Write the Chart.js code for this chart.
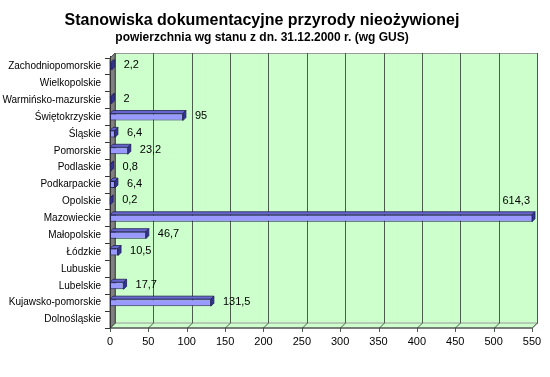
<!DOCTYPE html>
<html>
<head>
<meta charset="utf-8">
<script src="https://cdn.jsdelivr.net/npm/chart.js@4"></script>
<style>
  html, body { margin: 0; padding: 0; background: #fff; }
</style>
</head>
<body>
<canvas id="gusChart" width="550" height="377"></canvas>
<script>
// data (top to bottom)
const categories = [
  'Zachodniopomorskie', 'Wielkopolskie', 'Warmińsko-mazurskie', 'Świętokrzyskie',
  'Śląskie', 'Pomorskie', 'Podlaskie', 'Podkarpackie', 'Opolskie', 'Mazowieckie',
  'Małopolskie', 'Łódzkie', 'Lubuskie', 'Lubelskie', 'Kujawsko-pomorskie', 'Dolnośląskie'
];
const values = [2.2, null, 2, 95, 6.4, 23.2, 0.8, 6.4, 0.2, 614.3, 46.7, 10.5, null, 17.7, 131.5, null];
const xTickValues = [0, 50, 100, 150, 200, 250, 300, 350, 400, 450, 500, 550];
const titleText = 'Stanowiska dokumentacyjne przyrody nieożywionej';
const subtitleText = 'powierzchnia wg stanu z dn. 31.12.2000 r. (wg GUS)';

const DEPTH = 5;     // depth of the 3D walls
const BAR_DEPTH = 3; // depth of the 3D bars
const FONT = '"Liberation Sans", Arial, sans-serif';

function fmt(v) {
  return String(v).replace('.', ',');
}

// walls, floor and gridlines of the 3D box
const wallsPlugin = {
  id: 'walls',
  beforeDatasetsDraw(chart) {
    const { ctx, chartArea: a, scales } = chart;
    ctx.save();
    // back wall
    ctx.fillStyle = '#ccffcc';
    ctx.fillRect(a.left + DEPTH, a.top - DEPTH, a.right - a.left, a.bottom - a.top);
    ctx.strokeStyle = '#9a9a9a';
    ctx.lineWidth = 1;
    ctx.strokeRect(a.left + DEPTH + 0.5, a.top - DEPTH + 0.5, a.right - a.left, a.bottom - a.top);
    // floor
    ctx.beginPath();
    ctx.moveTo(a.left, a.bottom);
    ctx.lineTo(a.right, a.bottom);
    ctx.lineTo(a.right + DEPTH, a.bottom - DEPTH);
    ctx.lineTo(a.left + DEPTH, a.bottom - DEPTH);
    ctx.closePath();
    ctx.fillStyle = '#ccffcc';
    ctx.fill();
    ctx.strokeStyle = '#9a9a9a';
    ctx.stroke();
    // left wall
    ctx.beginPath();
    ctx.moveTo(a.left, a.top);
    ctx.lineTo(a.left + DEPTH, a.top - DEPTH);
    ctx.lineTo(a.left + DEPTH, a.bottom - DEPTH);
    ctx.lineTo(a.left, a.bottom);
    ctx.closePath();
    ctx.fillStyle = '#808080';
    ctx.fill();
    ctx.strokeStyle = '#555';
    ctx.stroke();
    // gridlines on the back wall and the floor
    ctx.strokeStyle = '#4b5e4b';
    xTickValues.forEach((v) => {
      const px = Math.round(scales.x.getPixelForValue(v)) + 0.5;
      ctx.beginPath();
      ctx.moveTo(px + DEPTH, a.top - DEPTH);
      ctx.lineTo(px + DEPTH, a.bottom - DEPTH);
      ctx.lineTo(px, a.bottom);
      ctx.lineTo(px, a.bottom + 4);
      ctx.stroke();
    });
    // front axis line
    ctx.strokeStyle = '#333';
    ctx.beginPath();
    ctx.moveTo(a.left + 0.5, a.top - 2);
    ctx.lineTo(a.left + 0.5, a.bottom);
    ctx.lineTo(a.right, a.bottom);
    ctx.stroke();
    ctx.restore();
  },
  afterDatasetsDraw(chart) {
    const { ctx, chartArea: a } = chart;
    const meta = chart.getDatasetMeta(0);
    ctx.save();
    meta.data.forEach((bar, i) => {
      const v = values[i];
      if (v === null) return;
      const end = Math.min(bar.x, a.right);
      const top = bar.y - bar.height / 2;
      const bottom = bar.y + bar.height / 2;
      // top face
      ctx.beginPath();
      ctx.moveTo(bar.base, top);
      ctx.lineTo(bar.base + BAR_DEPTH, top - BAR_DEPTH);
      ctx.lineTo(end + BAR_DEPTH, top - BAR_DEPTH);
      ctx.lineTo(end, top);
      ctx.closePath();
      ctx.fillStyle = '#6666cc';
      ctx.fill();
      ctx.strokeStyle = '#222255';
      ctx.lineWidth = 0.8;
      ctx.stroke();
      // right face
      ctx.beginPath();
      ctx.moveTo(end, top);
      ctx.lineTo(end + BAR_DEPTH, top - BAR_DEPTH);
      ctx.lineTo(end + BAR_DEPTH, bottom - BAR_DEPTH);
      ctx.lineTo(end, bottom);
      ctx.closePath();
      ctx.fillStyle = '#333399';
      ctx.fill();
      ctx.stroke();

      // value label
      ctx.fillStyle = '#000';
      ctx.font = '11px ' + FONT;
      ctx.textBaseline = 'middle';
      if (bar.x > a.right) {
        ctx.textAlign = 'right';
        ctx.fillText(fmt(v), a.right - 2, bar.y - 17);
      } else {
        ctx.textAlign = 'left';
        ctx.fillText(fmt(v), end + BAR_DEPTH + 9, bar.y - 1);
      }
    });
    ctx.restore();
  },
  afterDraw(chart) {
    const { ctx } = chart;
    ctx.save();
    ctx.fillStyle = '#000';
    ctx.textAlign = 'center';
    ctx.textBaseline = 'alphabetic';
    ctx.font = 'bold 16px ' + FONT;
    ctx.fillText(titleText, 262, 25);
    ctx.font = 'bold 12px ' + FONT;
    ctx.fillText(subtitleText, 262, 41);
    ctx.restore();
  }
};

function initializeGusChart() {
  const ctx = document.getElementById('gusChart');
  if (!ctx) {
    console.error('Canvas not found');
    return;
  }
  try {
    new Chart(ctx, {
      type: 'bar',
      data: {
        labels: categories,
        datasets: [{
          data: values,
          backgroundColor: '#9999ff',
          borderColor: '#222255',
          borderWidth: 1,
          borderSkipped: false,
          categoryPercentage: 1,
          barPercentage: 0.42,
        }],
      },
      options: {
        indexAxis: 'y',
        responsive: false,
        animation: false,
        layout: {
          padding: { top: 58, right: 18, bottom: 0, left: 0 },
        },
        plugins: {
          legend: { display: false },
          tooltip: { enabled: false },
        },
        scales: {
          x: {
            min: 0,
            max: 550,
            afterFit: (scale) => { scale.height = 49; },
            afterBuildTicks: (scale) => {
              scale.ticks = xTickValues.map((v) => ({ value: v }));
            },
            border: { display: false },
            grid: { display: false, tickLength: 4 },
            ticks: {
              color: '#000',
              padding: 3,
              maxRotation: 0,
              font: { family: FONT, size: 11 },
            },
          },
          y: {
            afterFit: (scale) => { scale.width = 110; },
            border: { display: false },
            grid: {
              drawOnChartArea: false,
              tickLength: 5,
              color: '#333',
            },
            ticks: {
              color: '#000',
              padding: 4,
              font: { family: FONT, size: 10 },
            },
          },
        },
      },
      plugins: [wallsPlugin],
    });
  } catch (error) {
    console.error('Chart initialization failed:', error);
  }
}

initializeGusChart();
</script>
</body>
</html>
